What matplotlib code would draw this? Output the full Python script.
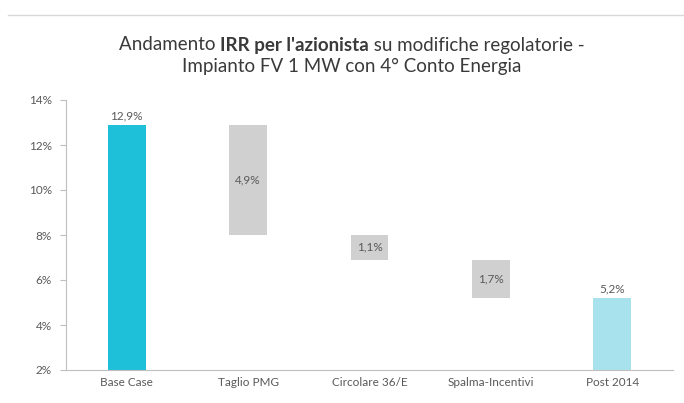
import matplotlib
matplotlib.use("Agg")
import matplotlib.pyplot as plt
import numpy as np

plt.rcParams['font.family'] = ['Lato', 'DejaVu Sans']

# dati
categories = ["Base Case", "Taglio PMG", "Circolare 36/E", "Spalma-Incentivi", "Post 2014"]
deltas = [12.9, -4.9, -1.1, -1.7, 5.2]   # in %
labels = ["12,9%", "4,9%", "1,1%", "1,7%", "5,2%"]
yticks = [2, 4, 6, 8, 10, 12, 14]

c_base = "#1ec0d9"
c_step = "#d0d0d0"
c_post = "#a8e2ed"
c_text = "#595959"

fig = plt.figure(figsize=(6.84, 4.03), dpi=100)
ax = fig.add_axes([66 / 684, 33 / 403, 607 / 684, 270 / 403])

x = np.arange(len(categories))
bottoms, heights, colors = [], [], []
level = deltas[0]
for i, d in enumerate(deltas):
    if i == 0:
        bottoms.append(0); heights.append(d); colors.append(c_base)
    elif i == len(deltas) - 1:
        bottoms.append(0); heights.append(d); colors.append(c_post)
    else:
        bottoms.append(level + d); heights.append(-d); colors.append(c_step)
        level += d

ax.bar(x, heights, bottom=bottoms, width=0.31, color=colors, zorder=2)

for i in range(len(x)):
    if i == 0 or i == len(x) - 1:
        ax.text(x[i], bottoms[i] + heights[i] + 0.15, labels[i], ha="center", va="bottom",
                fontsize=8.5, color=c_text)
    else:
        ax.text(x[i], bottoms[i] + heights[i] / 2, labels[i], ha="center", va="center",
                fontsize=8.5, color=c_text)

ax.set_xlim(-0.5, len(x) - 0.5)
ax.set_ylim(2, 14)
ax.set_yticks(yticks)
ax.set_yticklabels([f"{v}%" for v in yticks], fontsize=8.5, color=c_text)
ax.set_xticks(x)
ax.set_xticklabels(categories, fontsize=8.5, color=c_text)
ax.tick_params(axis="x", length=0, pad=5)
ax.tick_params(axis="y", length=4, color="#bfbfbf", pad=6)
for s in ["top", "right"]:
    ax.spines[s].set_visible(False)
ax.spines["left"].set_color("#bfbfbf")
ax.spines["bottom"].set_color("#bfbfbf")

# riga in alto
fig.add_artist(plt.Line2D([8 / 684, 1], [1 - 15 / 403] * 2, color="#d9d9d9", lw=1))

# titolo con parte in grassetto
parts = [("Andamento ", "normal"), ("IRR per l'azionista", "bold"), (" su modifiche regolatorie -", "normal")]
fig.canvas.draw()
r = fig.canvas.get_renderer()
ty = 1 - 45 / 403
texts = [fig.text(0, ty, t, fontsize=13.5, fontweight=w, color="#3a3a3a", va="center") for t, w in parts]
widths = [t.get_window_extent(r).width for t in texts]
xpos = 352 - sum(widths) / 2
for t, w in zip(texts, widths):
    t.set_x(xpos / 684)
    xpos += w
fig.text(352 / 684, 1 - 66 / 403, "Impianto FV 1 MW con 4° Conto Energia", fontsize=13.5,
         color="#3a3a3a", ha="center", va="center")

fig.savefig("out.png", dpi=100)
